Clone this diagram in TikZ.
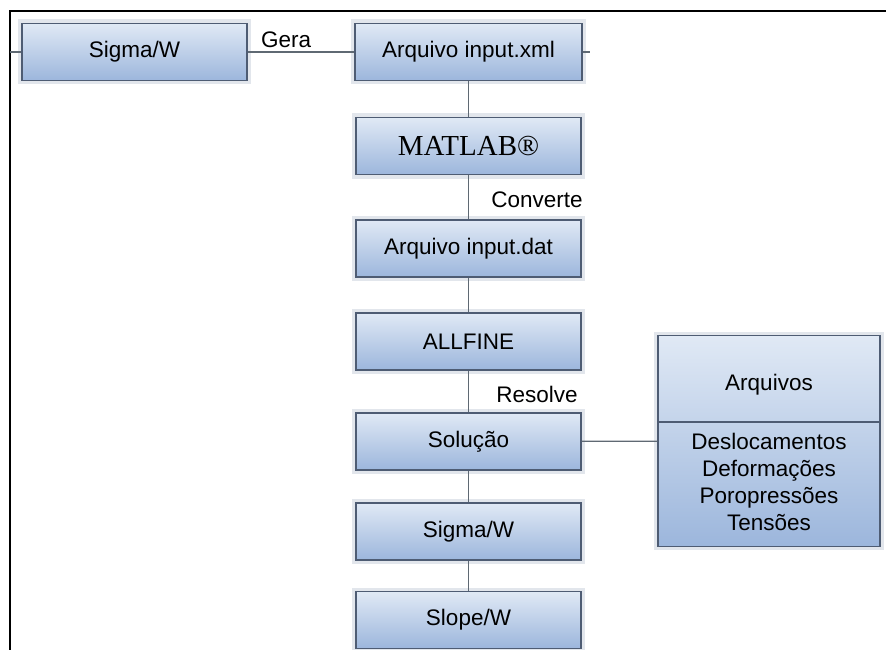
\documentclass[tikz,border=0pt]{standalone}
\usepackage{fontspec}
\setmainfont{Liberation Sans}
\newfontfamily\serifmat{Liberation Serif}
\usetikzlibrary{positioning,shapes.multipart}
\definecolor{boxtop}{RGB}{224,233,245}
\definecolor{boxbot}{RGB}{156,182,220}
\definecolor{boxline}{RGB}{78,92,115}
\definecolor{halo}{RGB}{226,230,236}
\definecolor{linkgray}{RGB}{95,105,115}

\begin{document}
\begin{tikzpicture}[x=1pt, y=-1pt, font=\fontsize{22.5}{27}\selectfont,
    stepbox/.style={rectangle, draw=boxline, line width=1.2pt,
        top color=boxtop, bottom color=boxbot,
        minimum width=225pt, minimum height=57pt, inner sep=0pt,
        preaction={draw=halo, line width=8pt}},
    link/.style={draw=linkgray, line width=1.2pt}]

    \useasboundingbox (0,0) rectangle (886,650);

    % frame
    \draw[line width=2.5pt] (886,11) -- (10,11) -- (10,650);

    % main chain
    \node[stepbox] (sig) at (134.5,52) {Sigma/W};
    \node[stepbox, minimum width=227pt] (xml) at (468.5,52) {Arquivo input.xml};
    \node[stepbox] (mat) at (468.5,146) {\serifmat\fontsize{29}{32}\selectfont MATLAB®};
    \node[stepbox] (dat) at (468.5,248.5) {Arquivo input.dat};
    \node[stepbox] (all) at (468.5,341.5) {ALLFINE};
    \node[stepbox] (sol) at (468.5,441.5) {Solução};
    \node[stepbox] (sig2) at (468.5,531.5) {Sigma/W};
    \node[stepbox] (slo) at (468.5,620) {Slope/W};

    % output files
    \node[stepbox, rectangle split, rectangle split parts=2,
        minimum width=222pt, text width=207pt, align=center,
        inner xsep=7.5pt, inner ysep=7.5pt] (arq) at (769,441)
        {\rule[-23.5pt]{0pt}{70pt}Arquivos
         \nodepart{two}\strut Deslocamentos\\Deformações\\Poropressões\\Tensões\strut};

    \coordinate (fl) at (10,52);
    \coordinate (fr) at (590,52);

    \draw[link]
        (fl) edge (sig)
        (sig) edge node[above, pos=0.36] {Gera} (xml)
        (xml) edge (fr)

        (xml) edge (mat)
        (mat) edge node[right=19pt, pos=0.55] {Converte} (dat)
        (dat) edge (all)
        (all) edge node[right=24pt, pos=0.58] {Resolve} (sol)

        (sol) edge (arq)
        (sol) edge (sig2)
        (sig2) edge (slo);

\end{tikzpicture}
\end{document}
